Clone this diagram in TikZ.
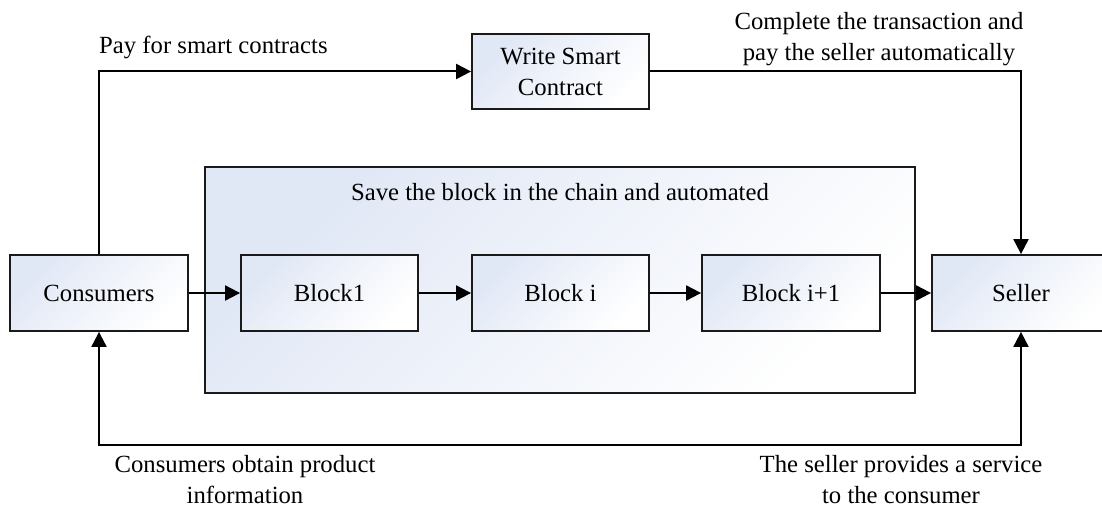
\documentclass[tikz,border=0pt]{standalone}
\usepackage{fontspec}
\setmainfont{Liberation Serif}
\usetikzlibrary{arrows.meta}
\definecolor{boxtint}{HTML}{E0E7F5}
\definecolor{edge}{HTML}{1A1A1A}
\begin{document}
\begin{tikzpicture}[x=1pt,y=-1pt,
  every node/.style={font=\fontsize{24.7}{31}\selectfont},
  stage/.style={draw=edge, line width=1.8pt, top color=boxtint, bottom color=white,
    shading angle=45, inner sep=0pt, align=center},
  flow/.style={line width=2pt, -{Triangle[length=15pt,width=15pt]}},
  twoway/.style={line width=2pt, {Triangle[length=15pt,width=15pt]}-{Triangle[length=15pt,width=15pt]}},
  lbl/.style={inner sep=0pt, align=center}]
\useasboundingbox (0,0) rectangle (1102,508);

% blockchain container
\node[stage, minimum width=710pt, minimum height=226pt] (chain) at (560,280) {};
\node[lbl, anchor=base] (chainlbl) at (560,200) {Save the block in the chain and automated};

% parties and blocks
\node[stage, minimum width=178pt, minimum height=76pt] (cons) at (99,293) {Consumers};
\node[stage, minimum width=177pt, minimum height=76pt] (b1) at (329.5,293) {Block1};
\node[stage, minimum width=177pt, minimum height=76pt] (bi) at (560.5,293) {Block i};
\node[stage, minimum width=178pt, minimum height=76pt] (bj) at (791,293) {Block i+1};
\node[stage, minimum width=178pt, minimum height=76pt] (sell) at (1021,293) {Seller};
\node[stage, minimum width=177pt, minimum height=75pt] (wsc) at (560.5,71.5) {Write Smart\\Contract};

% connectors
\draw[flow] (cons.north) |- (wsc.west);
\draw[flow] (wsc.east) -| (sell.north);
\draw[flow] (cons.east) -- (b1.west);
\draw[flow] (b1.east) -- (bi.west);
\draw[flow] (bi.east) -- (bj.west);
\draw[flow] (bj.east) -- (sell.west);
\coordinate (loopL) at (99,445);
\draw[twoway] (cons.south) -- (loopL) -| (sell.south);

% connector labels
\node[lbl, anchor=base west] (paylbl) at (99,54) {Pay for smart contracts};
\node[lbl, anchor=north] (donelbl) at (879,12) {Complete the transaction and\\pay the seller automatically};
\node[lbl, anchor=north] (infolbl) at (245,455) {Consumers obtain product\\information};
\node[lbl, anchor=north] (servlbl) at (901,455) {The seller provides a service\\to the consumer};
\end{tikzpicture}
\end{document}
